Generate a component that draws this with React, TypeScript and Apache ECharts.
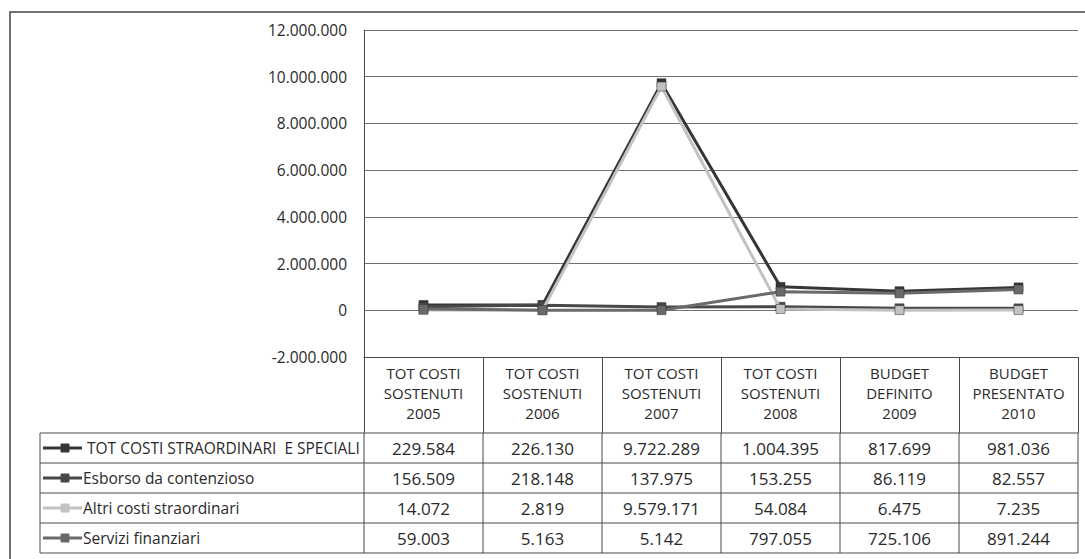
import React, { useEffect, useRef } from "react";
import * as echarts from "echarts";

const categories = [
  "TOT COSTI\nSOSTENUTI\n2005",
  "TOT COSTI\nSOSTENUTI\n2006",
  "TOT COSTI\nSOSTENUTI\n2007",
  "TOT COSTI\nSOSTENUTI\n2008",
  "BUDGET\nDEFINITO\n2009",
  "BUDGET\nPRESENTATO\n2010",
];
const seriesNames = [
  "TOT COSTI STRAORDINARI  E SPECIALI",
  "Esborso da contenzioso",
  "Altri costi straordinari",
  "Servizi finanziari",
];
const totCosti = [229584, 226130, 9722289, 1004395, 817699, 981036];
const esborso = [156509, 218148, 137975, 153255, 86119, 82557];
const altriCosti = [14072, 2819, 9579171, 54084, 6475, 7235];
const serviziFinanziari = [59003, 5163, 5142, 797055, 725106, 891244];
const yMin = -2000000;
const yMax = 12000000;
const yStep = 2000000;

const seriesData = [totCosti, esborso, altriCosti, serviziFinanziari];
const seriesColors = ["#363636", "#484848", "#c2c2c2", "#6a6a6a"];

const fmt = (n: number) => n.toString().replace(/\B(?=(\d{3})+(?!\d))/g, ".");

const W = 1085;
const H = 559;
const GRID_L = 364;
const GRID_R = 1078;
const GRID_T = 30;
const GRID_B = 357;
const HEADER_B = 433;
const ROW_H = 30;
const TABLE_L = 40;
const FONT = "'Open Sans', 'Liberation Sans', sans-serif";
const TXT = "#2a2a2a";
const LINE = "#4a4a4a";

export default function App() {
  const ref = useRef<HTMLDivElement>(null);
  useEffect(() => {
    document.body.style.margin = "0";
    const chart = echarts.init(ref.current!, undefined, { renderer: "svg" });
    const colW = (GRID_R - GRID_L) / categories.length;
    const graphics: any[] = [];
    graphics.push({
      type: "rect",
      shape: { x: 10, y: 12, width: 1100, height: 600 },
      style: { fill: "none", stroke: "#444", lineWidth: 1.5 },
      silent: true,
    });
    const rows = seriesNames.length;
    for (let r = 0; r <= rows; r++) {
      const y = HEADER_B + r * ROW_H;
      graphics.push({
        type: "line",
        shape: { x1: TABLE_L, y1: y, x2: GRID_R, y2: y },
        style: { stroke: LINE, lineWidth: 1 },
      });
    }
    const vx = [TABLE_L];
    for (let c = 0; c <= categories.length; c++) vx.push(GRID_L + c * colW);
    vx.forEach((x) => {
      graphics.push({
        type: "line",
        shape: { x1: x, y1: HEADER_B, x2: x, y2: HEADER_B + rows * ROW_H },
        style: { stroke: LINE, lineWidth: 1 },
      });
    });
    seriesNames.forEach((name, r) => {
      const cy = HEADER_B + r * ROW_H + ROW_H / 2;
      graphics.push({
        type: "line",
        shape: { x1: 43, y1: cy, x2: 82, y2: cy },
        style: { stroke: seriesColors[r], lineWidth: 3 },
      });
      graphics.push({
        type: "rect",
        shape: { x: 61, y: cy - 4, width: 8, height: 8 },
        style: { fill: seriesColors[r], stroke: seriesColors[r] },
      });
      graphics.push({
        type: "text",
        x: r === 0 ? 87 : 83,
        y: cy,
        style: {
          text: name,
          font: `15.5px ${FONT}`,
          fill: TXT,
          textVerticalAlign: "middle",
          textAlign: "left",
        },
      });
      seriesData[r].forEach((v, c) => {
        graphics.push({
          type: "text",
          x: GRID_L + c * colW + colW / 2,
          y: cy,
          style: {
            text: fmt(v),
            font: `17px ${FONT}`,
            fill: TXT,
            textVerticalAlign: "middle",
            textAlign: "center",
          },
        });
      });
    });

    chart.setOption({
      animation: false,
      backgroundColor: "#ffffff",
      grid: {
        left: GRID_L,
        right: W - GRID_R,
        top: GRID_T,
        bottom: H - GRID_B,
        containLabel: false,
      },
      xAxis: {
        type: "category",
        data: categories,
        boundaryGap: true,
        position: "bottom",
        axisLine: { show: true, onZero: false, lineStyle: { color: LINE, width: 1 } },
        axisTick: {
          show: true,
          length: HEADER_B - GRID_B,
          lineStyle: { color: LINE, width: 1 },
        },
        axisLabel: {
          margin: 6,
          color: TXT,
          fontFamily: FONT,
          fontSize: 15,
          lineHeight: 20,
          interval: 0,
        },
      },
      yAxis: {
        type: "value",
        min: yMin,
        max: yMax,
        interval: yStep,
        axisLine: { show: true, lineStyle: { color: LINE, width: 1 } },
        axisTick: { show: false },
        axisLabel: {
          margin: 17,
          color: TXT,
          fontFamily: FONT,
          fontSize: 15.5,
          formatter: (v: number) => fmt(v),
        },
        splitLine: { show: true, lineStyle: { color: "#707070", width: 1 } },
      },
      series: seriesNames.map((name, i) => ({
        name,
        type: "line",
        data: seriesData[i],
        symbol: "rect",
        symbolSize: 9,
        lineStyle: { color: seriesColors[i], width: 3 },
        itemStyle: { color: seriesColors[i], borderColor: "#333", borderWidth: 0.5 },
        z: 2 + i,
      })),
      graphic: graphics,
    });
    return () => chart.dispose();
  }, []);
  return <div ref={ref} style={{ width: W, height: H }} />;
}
